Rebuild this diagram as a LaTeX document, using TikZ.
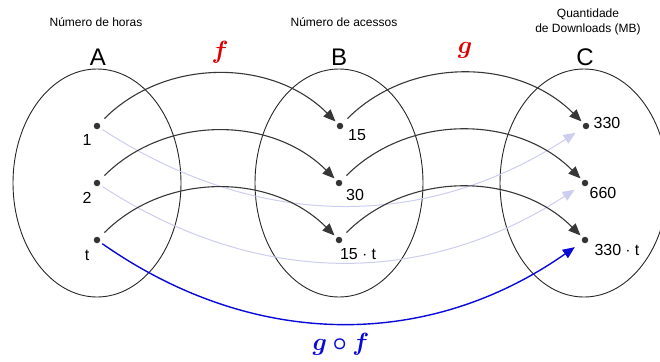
\documentclass[tikz,border=0pt]{standalone}
\usepackage{amsmath,bm}
\usepackage{fontspec}
\setmainfont{Liberation Sans}
\usetikzlibrary{arrows.meta}
\definecolor{mapred}{RGB}{225,0,0}
\definecolor{compblue}{RGB}{10,10,215}
\definecolor{faintblue}{RGB}{205,205,240}
\definecolor{arcgray}{RGB}{55,55,55}
\begin{document}
\begin{tikzpicture}[x=1pt,y=1pt,
  dotpt/.style={circle,fill=black!80,inner sep=0pt,minimum size=6.5pt},
  ptlabel/.style={font=\fontsize{16}{18}\selectfont},
  settitle/.style={font=\fontsize{12}{14.5}\selectfont,align=center},
  setname/.style={font=\fontsize{24}{26}\selectfont},
  maplabel/.style={font=\fontsize{27}{29}\selectfont},
  setring/.style={draw=black!85,line width=0.9pt},
  maparc/.style={draw=arcgray,line width=1.1pt,shorten <=7pt,shorten >=3pt,
    -{Triangle[length=12pt,width=10pt]}},
  comparc/.style={draw=faintblue,line width=1pt,shorten <=3pt,shorten >=9pt,
    -{Triangle[length=12pt,width=10pt]}}]
\useasboundingbox (0,0) rectangle (660,-361);
% sets
\draw[setring] (97,-183) ellipse [x radius=84,y radius=114];
\draw[setring] (339,-183) ellipse [x radius=84,y radius=114];
\draw[setring] (584,-183) ellipse [x radius=84,y radius=114];
\node[setname] (A) at (98,-57) {A};
\node[setname] (B) at (339,-57) {B};
\node[setname] (C) at (585,-57) {C};
\node[settitle] (tA) at (96,-22) {Número de horas};
\node[settitle] (tB) at (344,-22) {Número de acessos};
\node[settitle] (tC) at (588,-22) {Quantidade\\de Downloads (MB)};
% points
\node[dotpt] (a1) at (97,-126) {};
\node[dotpt] (a2) at (97,-183) {};
\node[dotpt] (at) at (97,-240) {};
\node[dotpt] (b1) at (340,-126) {};
\node[dotpt] (b2) at (339,-183) {};
\node[dotpt] (bt) at (339,-240) {};
\node[dotpt] (c1) at (586,-126) {};
\node[dotpt] (c2) at (585,-183) {};
\node[dotpt] (ct) at (585,-240) {};
\node[ptlabel] (la1) at (87,-140) {1};
\node[ptlabel] (la2) at (87,-198) {2};
\node[ptlabel] (lat) at (87,-255) {t};
\node[ptlabel] (lb1) at (357,-135) {15};
\node[ptlabel] (lb2) at (355,-195) {30};
\node[ptlabel] (lbt) at (358,-254) {15 $\cdot$ t};
\node[ptlabel] (lc1) at (607,-123) {330};
\node[ptlabel] (lc2) at (603,-193) {660};
\node[ptlabel] (lct) at (617,-250) {330 $\cdot$ t};
% composition
\draw[comparc] (a1) to[bend right=33] (c1);
\draw[comparc] (a2) to[bend right=33] (c2);
\draw[comparc,draw=compblue,line width=1.4pt] (at) to[bend right=35] (ct);
% f and g
\draw[maparc] (a1) to[bend left=45] (b1);
\draw[maparc] (a2) to[bend left=45] (b2);
\draw[maparc] (at) to[bend left=45] (bt);
\draw[maparc] (b1) to[bend left=45] (c1);
\draw[maparc] (b2) to[bend left=45] (c2);
\draw[maparc] (bt) to[bend left=45] (ct);
\node[maplabel,text=mapred] (f) at (220,-52) {$\bm{f}$};
\node[maplabel,text=mapred] (g) at (465,-50) {$\bm{g}$};
\node[maplabel,text=compblue] (gf) at (341,-344) {$\bm{g\circ f}$};
\end{tikzpicture}
\end{document}
